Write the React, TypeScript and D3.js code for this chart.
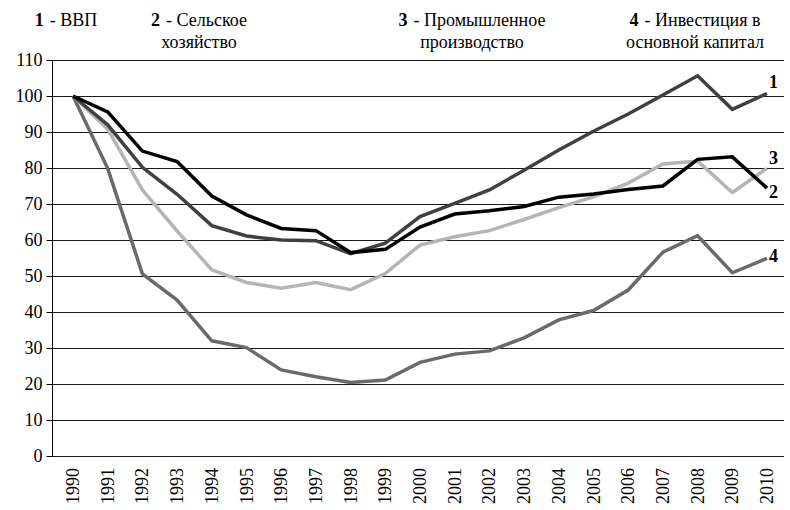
import React, { useRef, useEffect } from 'react';
import * as d3 from 'd3';

const years = d3.range(1990, 2011).map(String);

// 1 - ВВП
const gdp = [100, 92, 80.2, 72.7, 64, 61.1, 60, 59.8, 56.2, 59.1, 66.5, 70.2, 73.9, 79.4, 85, 90.2, 95, 100.3, 105.6, 96.3, 100.7];
// 2 - Сельское хозяйство
const agri = [100, 95.6, 84.7, 81.8, 72.2, 67, 63.2, 62.6, 56.5, 57.4, 63.6, 67.2, 68.1, 69.3, 71.9, 72.8, 74, 75, 82.4, 83.1, 74.4];
// 3 - Промышленное производство
const industry = [100, 90.8, 73.9, 62.5, 51.7, 48.2, 46.6, 48.2, 46.2, 50.7, 58.6, 60.9, 62.6, 65.7, 69, 72, 75.8, 81.1, 81.9, 73.2, 79.9];
// 4 - Инвестиция в основной капитал
const invest = [100, 79.9, 50.6, 43.3, 32, 30.1, 23.9, 22, 20.4, 21.1, 26, 28.3, 29.2, 32.8, 37.8, 40.4, 46.1, 56.6, 61.2, 50.9, 54.9];

const yTicks = d3.range(0, 111, 10);

const seriesList = [
  { id: '1', values: gdp, color: '#404040', labelDy: -5 },
  { id: '3', values: industry, color: '#b5b5b5', labelDy: -4 },
  { id: '2', values: agri, color: '#000000', labelDy: 10 },
  { id: '4', values: invest, color: '#6a6a6a', labelDy: 4 },
];

const legend = [
  { num: '1', first: '- ВВП', second: '', cx: 66 },
  { num: '2', first: '- Сельское', second: 'хозяйство', cx: 199 },
  { num: '3', first: '- Промышленное', second: 'производство', cx: 472 },
  { num: '4', first: '- Инвестиция в', second: 'основной капитал', cx: 695 },
];

const FONT = "'Liberation Serif', 'Times New Roman', Tinos, 'Nimbus Roman', FreeSerif, 'DejaVu Serif', serif";

export default function App() {
  const svgRef = useRef<SVGSVGElement | null>(null);

  useEffect(() => {
    const svg = d3.select(svgRef.current);
    svg.selectAll('*').remove();
    svg.style('font-family', FONT);

    const left = 52;
    const right = 784;
    const top = 60;
    const bottom = 456;

    const x = d3.scalePoint<string>().domain(years).range([73, 767]);
    const y = d3.scaleLinear().domain([0, 110]).range([bottom, top]);

    // gridlines
    svg
      .append('g')
      .selectAll('line')
      .data(yTicks)
      .enter()
      .append('line')
      .attr('x1', left)
      .attr('x2', right)
      .attr('y1', (d) => y(d) + 0.5)
      .attr('y2', (d) => y(d) + 0.5)
      .attr('stroke', '#1a1a1a')
      .attr('stroke-width', 1);

    // y axis
    const yAxis = d3.axisLeft(y).tickValues(yTicks).tickSize(6).tickPadding(4);
    const yAxisGroup = svg
      .append('g')
      .attr('transform', `translate(${left + 0.5},0)`)
      .call(yAxis)
      .attr('font-family', null);
    yAxisGroup.select('.domain').attr('stroke', '#000').attr('d', `M0,${top}V${bottom}`);
    yAxisGroup.selectAll('line').attr('stroke', '#000');
    yAxisGroup
      .selectAll('text')
      .style('font-family', FONT)
      .attr('font-size', 18)
      .attr('fill', '#000');

    // x labels
    svg
      .append('g')
      .selectAll('text')
      .data(years)
      .enter()
      .append('text')
      .attr('transform', (d) => `translate(${(x(d) as number) + 6},${bottom + 12}) rotate(-90)`)
      .attr('text-anchor', 'end')
      .attr('font-size', 18)
      .style('font-family', FONT)
      .text((d) => d);

    // lines
    const line = d3
      .line<number>()
      .x((d, i) => x(years[i]) as number)
      .y((d) => y(d));

    const drawOrder = [seriesList[3], seriesList[1], seriesList[0], seriesList[2]];
    svg
      .append('g')
      .selectAll('path')
      .data(drawOrder)
      .enter()
      .append('path')
      .attr('fill', 'none')
      .attr('stroke', (d) => d.color)
      .attr('stroke-width', 3.5)
      .attr('stroke-linejoin', 'miter')
      .attr('d', (d) => line(d.values));

    // end labels
    svg
      .append('g')
      .selectAll('text')
      .data(seriesList)
      .enter()
      .append('text')
      .attr('x', x(years[years.length - 1]) as number)
      .attr('dx', 2)
      .attr('y', (d) => y(d.values[d.values.length - 1]) + d.labelDy)
      .attr('font-size', 18)
      .attr('font-weight', 'bold')
      .style('font-family', FONT)
      .text((d) => d.id);

    // legend: bold number + normal text, first line centred, second line centred under it
    const lg = svg.append('g').attr('font-size', 18);
    const gap = 6;
    legend.forEach((item) => {
      const numText = lg
        .append('text')
        .attr('font-weight', 'bold')
        .style('font-family', FONT)
        .attr('y', 26)
        .text(item.num);
      const restText = lg
        .append('text')
        .style('font-family', FONT)
        .attr('y', 26)
        .text(item.first);
      const wNum = (numText.node() as SVGTextElement).getComputedTextLength();
      const wRest = (restText.node() as SVGTextElement).getComputedTextLength();
      const x0 = item.cx - (wNum + gap + wRest) / 2;
      numText.attr('x', x0);
      restText.attr('x', x0 + wNum + gap);
      if (item.second) {
        lg.append('text')
          .style('font-family', FONT)
          .attr('x', item.cx)
          .attr('y', 48)
          .attr('text-anchor', 'middle')
          .text(item.second);
      }
    });
  }, []);

  return (
    <svg
      ref={svgRef}
      width={790}
      height={510}
      style={{ position: 'absolute', left: 0, top: 0, background: '#fff' }}
    />
  );
}
